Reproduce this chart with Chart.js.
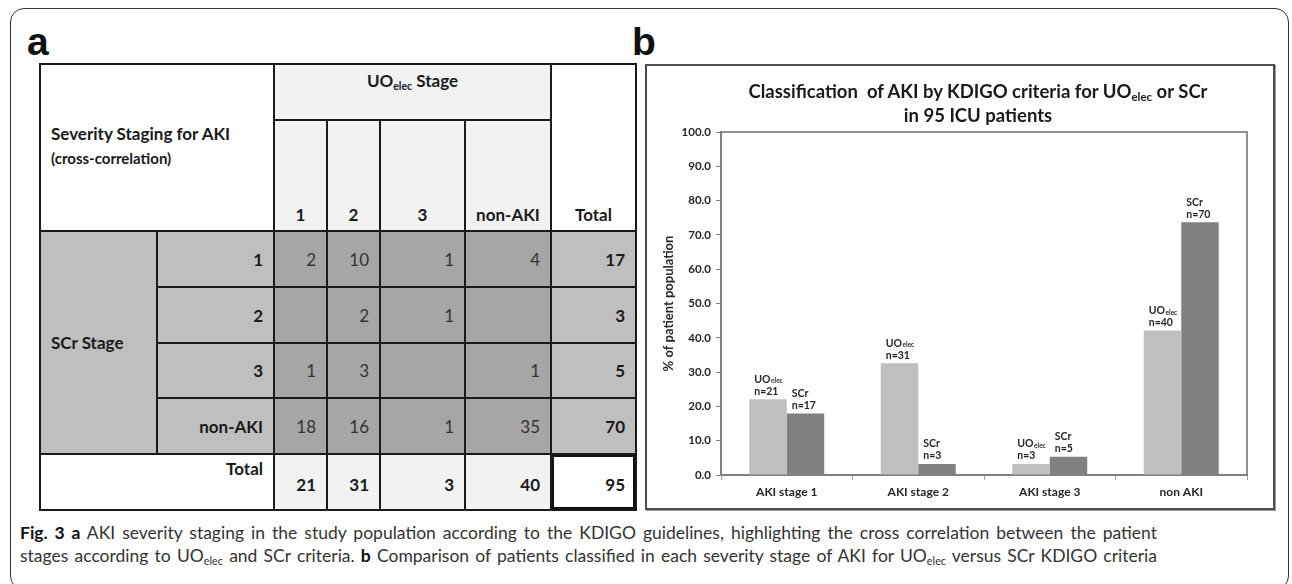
<!DOCTYPE html>
<html>
<head>
<meta charset="utf-8">
<script src="https://cdn.jsdelivr.net/npm/chart.js@4.4.1/dist/chart.umd.min.js"></script>
<style>
  body { margin: 0; width: 1292px; height: 584px; overflow: hidden; position: relative; background: #fff; font-family: Lato, "Open Sans", sans-serif; color: #1a1a1a; }
  .frame { position: absolute; left: 10px; top: 8px; width: 1279px; height: 582px; border: 1.5px solid #333; border-radius: 14px; box-sizing: border-box; }
  .panel-letter { position: absolute; font-family: "Liberation Sans", Arial, sans-serif; font-weight: bold; font-size: 39px; line-height: 1; color: #111; }
  #grid { position: absolute; left: 39px; top: 63px; padding: 2px; background: #1a1a1a; display: grid; gap: 2px;
          grid-template-columns: 115px 115px 51px 51px 83px 84px 83px;
          grid-template-rows: 54px 109px 54px 54px 53px 54px 54px; }
  #grid > div { display: flex; box-sizing: border-box; font-size: 17px; }
  .hdr { background: #f2f2f2; font-weight: bold; }
  .wht { background: #fff; font-weight: bold; }
  .lab { background: #bfbfbf; font-weight: bold; justify-content: flex-end; align-items: center; padding-right: 10px; }
  .dat { background: #a6a6a6; color: #333; justify-content: flex-end; align-items: center; padding-right: 10px; }
  .tot { background: #bfbfbf; font-weight: bold; justify-content: flex-end; align-items: center; padding-right: 10px; }
  .ctot { background: #f2f2f2; font-weight: bold; justify-content: flex-end; align-items: center; padding-right: 10px; padding-top: 4px; }
  sub { font-size: 0.62em; vertical-align: -0.25em; line-height: 0; }
  .chartbox { position: absolute; left: 645px; top: 64px; width: 630px; height: 446px; border: 2px solid #4d4d4d; box-sizing: border-box; box-shadow: 1px 1px 0 #9a9a9a; }
  #chart { position: absolute; left: 0; top: 0; }
  .ctitle { position: absolute; left: 31px; top: 13px; width: 600px; text-align: center; font-weight: bold; font-size: 18.5px; line-height: 24px; color: #1a1a1a; }
  .caption { position: absolute; left: 20px; top: 521px; width: 1137px; font-size: 17.5px; line-height: 23px; color: #333; }
  .caption div { white-space: nowrap; text-align: justify; text-align-last: justify; }
  .caption b { color: #111; }
</style>
</head>
<body>
<div class="frame"></div>
<div class="panel-letter" style="left:27px; top:22px;">a</div>
<div class="panel-letter" style="left:632px; top:22px;">b</div>

<div id="grid"></div>

<div class="chartbox">
  <canvas id="chart" width="626" height="442"></canvas>
  <div class="ctitle">Classification&nbsp; of AKI by KDIGO criteria for UO<sub>elec</sub> or SCr<br>in 95 ICU patients</div>
</div>

<div class="caption">
  <div><b>Fig. 3 a</b> AKI severity staging in the study population according to the KDIGO guidelines, highlighting the cross correlation between the patient</div>
  <div>stages according to UO<sub>elec</sub> and SCr criteria. <b>b</b> Comparison of patients classified in each severity stage of AKI for UO<sub>elec</sub> versus SCr KDIGO criteria</div>
</div>

<script>
// ---- panel a: cross table ----
const uoStages = ['1', '2', '3', 'non-AKI'];
const scrStages = ['1', '2', '3', 'non-AKI'];
const crossTable = [
  [2, 10, 1, 4],
  [null, 2, 1, null],
  [1, 3, null, 1],
  [18, 16, 1, 35]
];
const rowTotals = [17, 3, 5, 70];
const colTotals = [21, 31, 3, 40];
const grandTotal = 95;

// ---- panel b: bar chart ----
const categories = ['AKI stage 1', 'AKI stage 2', 'AKI stage 3', 'non AKI'];
const uoPercent = [22.1, 32.6, 3.2, 42.1];
const scrPercent = [17.9, 3.2, 5.3, 73.7];
const uoCounts = [21, 31, 3, 40];
const scrCounts = [17, 3, 5, 70];
const yMin = 0, yMax = 100, yStep = 10;

const grid = document.getElementById('grid');
const cell = (cls, html, area, style) => {
  const d = document.createElement('div');
  d.className = cls;
  d.innerHTML = '<span>' + html + '</span>';
  d.style.gridArea = area;
  if (style) d.style.cssText += style;
  grid.appendChild(d);
};

cell('wht', 'Severity Staging for AKI<div style="font-size:15px;margin-top:5px">(cross-correlation)</div>',
     '1 / 1 / 3 / 3', 'align-items:center;padding-left:10px;padding-bottom:6px');
cell('hdr', 'UO<sub>elec</sub>&nbsp;Stage', '1 / 3 / 2 / 7', 'justify-content:center;padding-top:5px');
cell('wht', 'Total', '1 / 7 / 3 / 8', 'justify-content:center;align-items:flex-end;padding-bottom:5px');
uoStages.forEach((s, i) => {
  cell('hdr', s, `2 / ${i + 3} / 3 / ${i + 4}`, 'justify-content:center;align-items:flex-end;padding-bottom:5px');
});
cell('lab', 'SCr Stage', '3 / 1 / 7 / 2', 'justify-content:flex-start;padding-left:10px');
scrStages.forEach((s, r) => {
  cell('lab', s, `${r + 3} / 2 / ${r + 4} / 3`);
  crossTable[r].forEach((v, c) => {
    cell('dat', v === null ? '' : String(v), `${r + 3} / ${c + 3} / ${r + 4} / ${c + 4}`);
  });
  cell('tot', String(rowTotals[r]), `${r + 3} / 7 / ${r + 4} / 8`);
});
cell('wht', 'Total', '7 / 1 / 8 / 3', 'justify-content:flex-end;padding-right:10px;padding-top:3px');
colTotals.forEach((v, c) => {
  cell('ctot', String(v), `7 / ${c + 3} / 8 / ${c + 4}`);
});
cell('wht', String(grandTotal), '7 / 7 / 8 / 8',
     'justify-content:flex-end;align-items:center;padding-right:10px;padding-top:4px;box-shadow:inset 0 0 0 2px #111');

// frame round the plot area (top and right edges)
const plotFrame = {
  id: 'plotFrame',
  afterDraw(chart) {
    const { ctx, chartArea: a } = chart;
    ctx.save();
    ctx.strokeStyle = '#6e6e6e';
    ctx.lineWidth = 1.5;
    ctx.beginPath();
    ctx.moveTo(a.left, a.top);
    ctx.lineTo(a.right, a.top);
    ctx.lineTo(a.right, a.bottom);
    ctx.stroke();
    ctx.restore();
  }
};

// "UOelec n=21" style labels over each bar
const barLabels = {
  id: 'barLabels',
  afterDatasetsDraw(chart) {
    const ctx = chart.ctx;
    const big = 'bold 10.5px Lato, "Open Sans", sans-serif';
    ctx.save();
    ctx.fillStyle = '#262626';
    ctx.textBaseline = 'middle';
    ctx.textAlign = 'left';
    chart.data.datasets.forEach((ds, i) => {
      const counts = i === 0 ? uoCounts : scrCounts;
      chart.getDatasetMeta(i).data.forEach((bar, j) => {
        const x = bar.x - bar.width / 2 + 5;
        const y = bar.y;
        ctx.font = big;
        if (i === 0) {
          ctx.fillText('UO', x, y - 20);
          const w = ctx.measureText('UO').width;
          ctx.font = 'bold 6.5px Lato, "Open Sans", sans-serif';
          ctx.fillText('elec', x + w + 0.5, y - 18);
          ctx.font = big;
        } else {
          ctx.fillText('SCr', x, y - 20);
        }
        ctx.fillText('n=' + counts[j], x, y - 8);
      });
    });
    ctx.restore();
  }
};

new Chart(document.getElementById('chart'), {
  type: 'bar',
  data: {
    labels: categories,
    datasets: [
      { label: 'UOelec', data: uoPercent, backgroundColor: '#bfbfbf', borderWidth: 0,
        categoryPercentage: 0.57, barPercentage: 1.0 },
      { label: 'SCr', data: scrPercent, backgroundColor: '#808080', borderWidth: 0,
        categoryPercentage: 0.57, barPercentage: 1.0 }
    ]
  },
  options: {
    responsive: false,
    animation: false,
    layout: { padding: { left: 14, right: 26, top: 66, bottom: 3 } },
    plugins: { legend: { display: false }, tooltip: { enabled: false }, title: { display: false } },
    scales: {
      x: {
        afterFit: (s) => { s.height = 30; },
        grid: { display: true, drawOnChartArea: false, offset: true, tickLength: 5, color: '#a6a6a6' },
        border: { color: '#808080', width: 2 },
        ticks: { color: '#262626', padding: 5, font: { family: 'Lato', size: 12, weight: 'bold' } }
      },
      y: {
        min: yMin, max: yMax,
        afterFit: (s) => { s.width = 60; },
        grid: { display: true, drawOnChartArea: false, tickLength: 5, color: '#808080' },
        border: { color: '#808080', width: 2 },
        ticks: { stepSize: yStep, padding: 5, color: '#262626', font: { family: 'Lato', size: 11.5, weight: 'bold' },
                 callback: (v) => Number(v).toFixed(1) },
        title: { display: true, text: '% of patient population', color: '#262626', padding: 0,
                 font: { family: 'Lato', size: 13, weight: 'bold' } }
      }
    }
  },
  plugins: [plotFrame, barLabels]
});
</script>
</body>
</html>
